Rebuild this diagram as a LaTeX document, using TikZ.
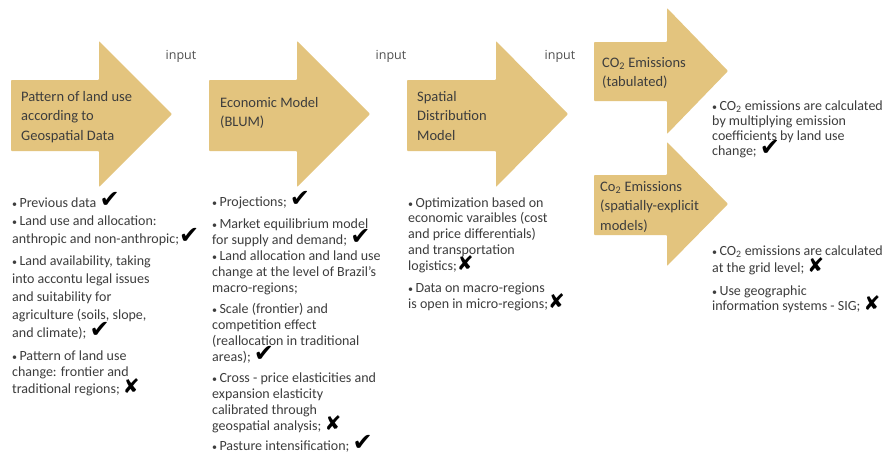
\documentclass[tikz,border=0pt]{standalone}
\usepackage{fontspec}
\setmainfont{Carlito}
\newfontfamily\symf{DejaVu Sans}
\newfontfamily\inputf{Open Sans}
\definecolor{tanfill}{HTML}{E3C47E}
\definecolor{ink}{HTML}{3D3D3D}
\newcommand{\ck}{\smash{\symf\fontsize{24}{24}\selectfont\color{black}✔}}
\newcommand{\xm}{\smash{\symf\fontsize{20}{20}\selectfont\color{black}✘}}
\newcommand{\bul}{{\fontsize{10}{10}\selectfont •}\,}
\newcommand{\ml}[1]{\begin{tabular}[t]{@{}l@{}}#1\end{tabular}}
\tikzset{
  bigarrow/.style={fill=tanfill, draw=none, rounded corners=0.8pt},
  lbl/.style={anchor=base west, inner sep=0pt, text=ink,
    font=\fontsize{14.5}{19.5}\selectfont},
  txt/.style={anchor=base west, inner sep=0pt, text=ink,
    font=\fontsize{14}{16.3}\selectfont},
  inp/.style={anchor=base, inner sep=0pt, text=ink!90,
    font=\inputf\fontsize{12.5}{13}\selectfont}
}
\begin{document}
\begin{tikzpicture}[x=1pt,y=-1pt]
\useasboundingbox (0,0) rectangle (890,456);
\fill[white] (0,0) rectangle (890,456);
% arrows
\fill[bigarrow] (11,80) -- (99,80) -- (99,41) -- (172,114) -- (99,187) -- (99,151) -- (11,151) -- cycle;
\fill[bigarrow] (209,80) -- (297,80) -- (297,41) -- (370,114) -- (297,187) -- (297,151) -- (209,151) -- cycle;
\fill[bigarrow] (407,80) -- (496,80) -- (496,41) -- (568,114) -- (496,187) -- (496,151) -- (407,151) -- cycle;
\fill[bigarrow] (594,42) -- (667,42) -- (667,8) -- (728,71) -- (667,134) -- (667,101) -- (594,101) -- cycle;
\fill[bigarrow] (594,175) -- (667,175) -- (667,142) -- (728,204) -- (667,266) -- (667,235) -- (594,235) -- cycle;
% input labels
\node[inp] (in1) at (181,59) {input};
\node[inp] (in2) at (391,59) {input};
\node[inp] (in3) at (560,59) {input};
% arrow labels
\node[lbl] (a1) at (21,101) {\ml{Pattern of land use\\according to\\Geospatial Data}};
\node[lbl] (a2) at (220,107) {\ml{Economic Model\\(BLUM)}};
\node[lbl] (a3) at (417,101) {\ml{Spatial\\Distribution\\Model}};
\node[lbl] (a4) at (602,67) {\ml{CO\textsubscript{2} Emissions\\(tabulated)}};
\node[lbl] (a5) at (600,191) {\ml{Co\textsubscript{2} Emissions\\(spatially-explicit\\models)}};
% column 1
\node[txt] (c1a) at (12,207) {\ml{\bul Previous data \ck}};
\node[txt, font=\fontsize{14}{18}\selectfont] (c1b) at (12,225) {\ml{\bul Land use and allocation:\\anthropic and non-anthropic;\ck}};
\node[txt, font=\fontsize{14}{18}\selectfont] (c1c) at (12,265) {\ml{\bul Land availability, taking\\into accontu legal issues\\and suitability for\\agriculture (soils, slope,\\and climate); \ck}};
\node[txt, font=\fontsize{14}{16.5}\selectfont] (c1d) at (12,360) {\ml{\bul Pattern of land use\\change: frontier and\\traditional regions; \xm}};
% column 2
\node[txt] (c2a) at (212,206) {\ml{\bul Projections; \ck}};
\node[txt, font=\fontsize{14}{16}\selectfont] (c2b) at (212,228) {\ml{\bul Market equilibrium model\\for supply and demand; \ck}};
\node[txt, font=\fontsize{14}{16}\selectfont] (c2c) at (212,260) {\ml{\bul Land allocation and land use\\change at the level of Brazil’s\\macro-regions;}};
\node[txt] (c2d) at (212,313) {\ml{\bul Scale (frontier) and\\competition effect\\(reallocation in traditional\\areas); \ck}};
\node[txt, font=\fontsize{14}{16}\selectfont] (c2e) at (212,382) {\ml{\bul Cross - price elasticities and\\expansion elasticity\\calibrated through\\geospatial analysis; \xm}};
\node[txt] (c2f) at (212,450) {\ml{\bul Pasture intensification; \ck}};
% column 3
\node[txt, font=\fontsize{14}{15.8}\selectfont] (c3a) at (408,207) {\ml{\bul Optimization based on\\economic varaibles (cost\\and price differentials)\\and transportation\\logistics;\xm}};
\node[txt, font=\fontsize{14}{16}\selectfont] (c3b) at (408,292) {\ml{\bul Data on macro-regions\\is open in micro-regions;\xm}};
% column 4
\node[txt, font=\fontsize{14}{15}\selectfont] (c4a) at (712,110) {\ml{\bul CO\textsubscript{2} emissions are calculated\\by multiplying emission\\coefficients by land use\\change; \ck}};
\node[txt, font=\fontsize{14}{17}\selectfont] (c4b) at (712,255) {\ml{\bul CO\textsubscript{2} emissions are calculated\\at the grid level; \xm}};
\node[txt, font=\fontsize{14}{15}\selectfont] (c4c) at (712,295) {\ml{\bul Use geographic\\information systems - SIG; \xm}};
\end{tikzpicture}
\end{document}
